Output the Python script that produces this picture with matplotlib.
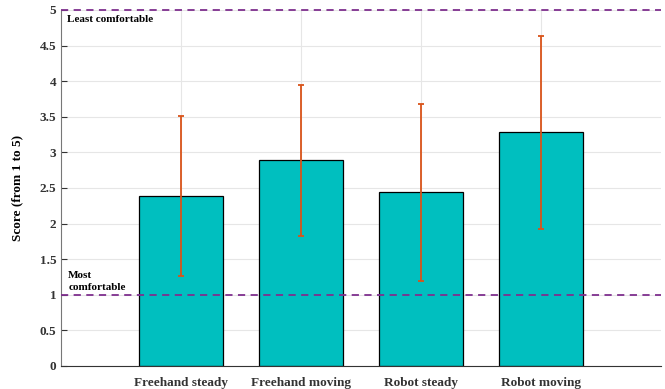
import matplotlib.pyplot as plt
import numpy as np

conditions = ["Freehand steady", "Freehand moving", "Robot steady", "Robot moving"]
mean_score = [2.39, 2.89, 2.44, 3.28]
std_score = [1.12, 1.06, 1.24, 1.36]
yticks = [0, 0.5, 1, 1.5, 2, 2.5, 3, 3.5, 4, 4.5, 5]

plt.rcParams['font.family'] = ['Liberation Serif', 'DejaVu Serif']
plt.rcParams['font.weight'] = 'bold'

fig = plt.figure(figsize=(6.65, 3.89), dpi=100)
ax = fig.add_axes([61 / 665, 23 / 389, 600 / 665, 356 / 389])

x = np.arange(1, len(conditions) + 1)
ax.bar(x, mean_score, width=0.7, color='#00BFBF', edgecolor='black', linewidth=0.9, zorder=2)
ax.errorbar(x, mean_score, yerr=std_score, fmt='none', ecolor='#D95319',
            elinewidth=1.3, capsize=2.5, capthick=1.3, zorder=3)

# reference lines for the ends of the scale
ax.axhline(1, color='#7E2F8E', linestyle='--', linewidth=1.3, dashes=(4, 3), zorder=4)
ax.axhline(5, color='#7E2F8E', linestyle='--', linewidth=1.3, dashes=(4, 3), zorder=4, clip_on=False)
ax.text(0.05, 4.93, "Least comfortable", fontsize=8, fontweight='bold', va='top', ha='left')
ax.text(0.06, 1.04, "Most\ncomfortable", fontsize=8, fontweight='bold', va='bottom', ha='left',
        linespacing=1.45)

ax.set_xlim(0, 5)
ax.set_ylim(0, 5)
ax.set_xticks(x)
ax.set_xticklabels(conditions, fontsize=9.5, fontweight='bold')
ax.set_yticks(yticks)
ax.set_yticklabels([f"{v:g}" for v in yticks], fontsize=9.5, fontweight='bold')
ax.set_ylabel("Score (from 1 to 5)", fontsize=9.5, fontweight='bold', labelpad=12)

ax.grid(True, color='#e6e6e6', linewidth=0.8, zorder=0)
ax.set_axisbelow(True)
ax.tick_params(axis='both', direction='in', length=4, width=0.8, colors='#333333')
ax.tick_params(axis='x', pad=8)
for side in ['top', 'right']:
    ax.spines[side].set_visible(False)
ax.spines['left'].set_color('#777777')
ax.spines['bottom'].set_color('#333333')

fig.savefig('out.png', dpi=100)
